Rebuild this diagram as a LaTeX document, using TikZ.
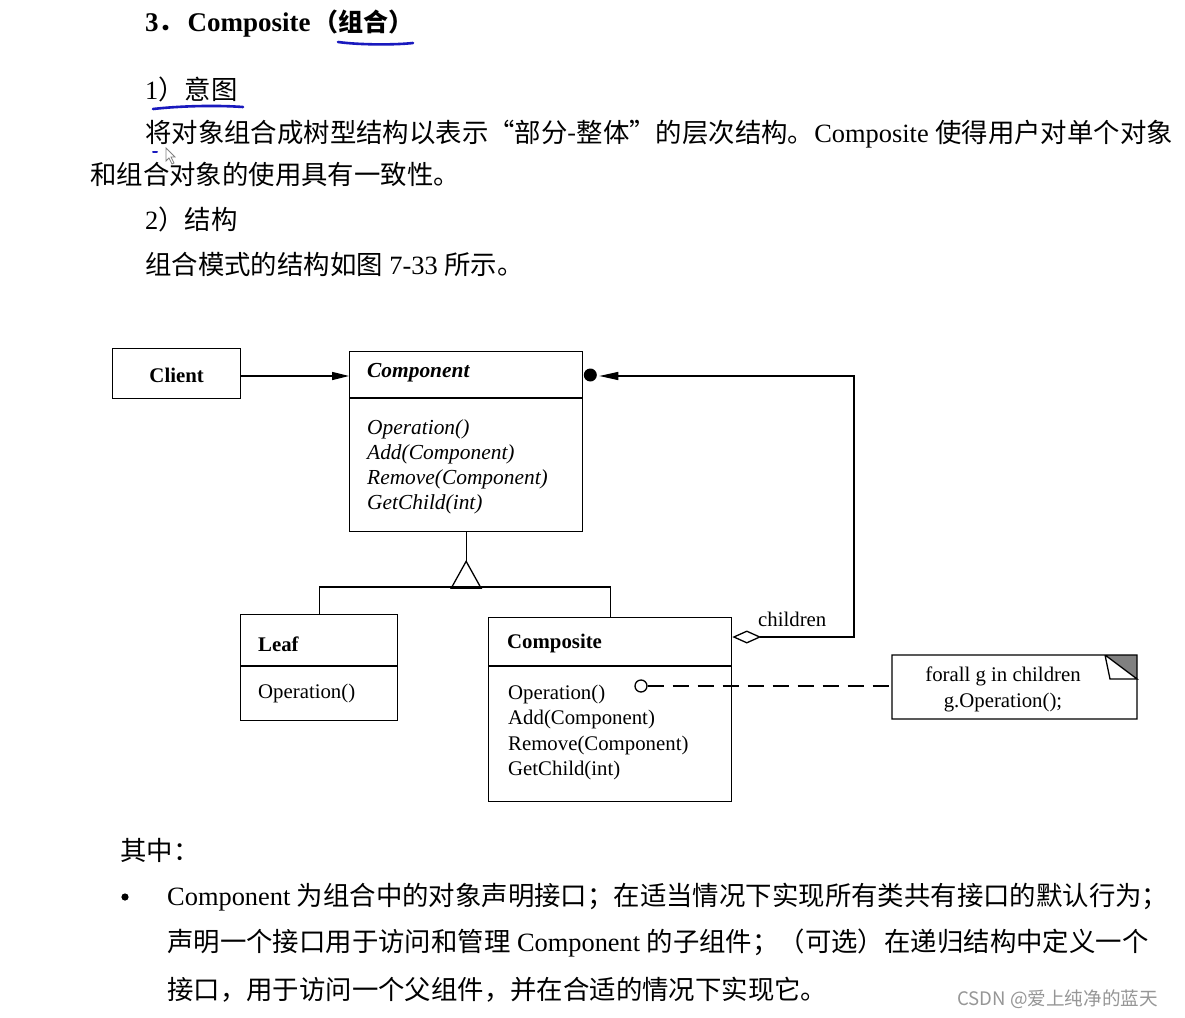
\documentclass[tikz,border=0pt]{standalone}
\usepackage{fontspec}
\setmainfont{Liberation Serif}
\newfontfamily\cjk{Noto Sans CJK SC}
\usetikzlibrary{arrows.meta,calc}
\definecolor{inkblue}{RGB}{25,25,190}
\definecolor{notegray}{RGB}{128,128,128}
\definecolor{wmgray}{RGB}{150,150,150}
\begin{document}
\begin{tikzpicture}[x=1pt,y=-1pt,
  txt/.style={inner sep=0pt, anchor=west},
  body/.style={txt, font=\fontsize{26.4}{30}\selectfont},
  ttl/.style={txt, font=\fontsize{27}{30}\selectfont\bfseries},
  dg/.style={txt, font=\fontsize{20.8}{25}\selectfont},
  dgb/.style={txt, font=\fontsize{20.8}{25}\selectfont\bfseries},
  dgbi/.style={txt, font=\fontsize{21.4}{25}\selectfont\bfseries\itshape},
  dgi/.style={txt, font=\fontsize{21.4}{25}\selectfont\itshape},
  umlbox/.style={draw, line width=1.3pt, inner sep=0pt, anchor=north west},
  ln/.style={line width=1.3pt},
  pen/.style={inkblue, line width=2.6pt, line cap=round},
]
\useasboundingbox (0,0) rectangle (1185,1017);
\fill[white] (0,0) rectangle (1185,1017);

% ---------- header text ----------
\node[ttl] (title) at (145,24) {3{\cjk\fontsize{25}{28}\selectfont ．}\hspace{4pt}Composite\hspace{3pt}{\cjk\fontsize{25}{28}\selectfont （组合）}};
\draw[pen] (338,42) .. controls (360,45) and (395,45) .. (413,43);

\node[body] (intent) at (145,89) {1{\cjk ）意图}};
\draw[pen] (153,109) .. controls (180,106) and (215,105) .. (243,107);

\node[body] (l1) at (145,134) {{\cjk 将对象组合成树型结构以表示“部分-整体”的层次结构。}Composite {\cjk 使得用户对单个对象}};
\node[body] (l2) at (90,174) {{\cjk 和组合对象的使用具有一致性。}};
\draw[inkblue, line width=2pt, line cap=round] (153,152) -- (157,152);
\draw[gray, line width=0.8pt, fill=white] (166,148) -- (166,161) -- (169,158) -- (172,164) -- (174,163) -- (171,157) -- (175,157) -- cycle;

\node[body] (struct) at (145,219) {2{\cjk ）结构}};
\node[body] (fig) at (145,264) {{\cjk 组合模式的结构如图} 7-33 {\cjk 所示。}};

% ---------- UML diagram ----------
\node[umlbox, minimum width=128, minimum height=50] (client) at (112,348) {};
\node[dgb, anchor=center] (clientname) at ($(client.center)+(0,2)$) {Client};

\node[umlbox, minimum width=233, minimum height=180] (component) at (349,351) {};
\draw[ln] (349,398) -- (582,398);
\node[dgbi] (componentname) at (367,373) {Component};
\node[dgi] (cop) at (367,429) {Operation()};
\node[dgi] (cadd) at (367,454) {Add(Component)};
\node[dgi] (crem) at (367,479) {Remove(Component)};
\node[dgi] (cget) at (367,504) {GetChild(int)};

\node[umlbox, minimum width=157, minimum height=106] (leaf) at (240,614) {};
\draw[ln] (240,666) -- (397,666);
\node[dgb] (leafname) at (258,644) {Leaf};
\node[dg] (lop) at (258,693) {Operation()};

\node[umlbox, minimum width=243, minimum height=184] (comp) at (488,617) {};
\draw[ln] (488,666) -- (731,666);
\node[dgb] (compname) at (507,643) {Composite};
\node[dg] (kop) at (508,694) {Operation()};
\node[dg] (kadd) at (508,719) {Add(Component)};
\node[dg] (krem) at (508,745) {Remove(Component)};
\node[dg] (kget) at (508,770) {GetChild(int)};

% client -> component
\draw[ln, -{Triangle[length=17pt,width=8pt]}] (client.east |- 0,376) -- (component.west |- 0,376);

% generalization
\coordinate (gtip) at ($(component.south)+(0,29)$);
\draw[ln] (component.south) -- (gtip);
\draw[ln, line join=miter] (gtip) -- ++(-15,27) -- ++(30,0) -- cycle;
\draw[ln] (leaf.north) -- (leaf.north |- 0,587) -- (comp.north |- 0,587) -- (comp.north);

% children aggregation
\coordinate (dia) at ($(comp.north east)+(0,20)$);
\coordinate (dotpt) at ($(component.north east)+(7,24)$);
\draw[ln, {Diamond[open,length=29pt,width=13pt]}-{Triangle[length=19pt,width=8pt]}]
  (dia) -- (854,637) -- (854,376) -- ($(dotpt)+(9,1)$);
\fill (dotpt) circle (6.5);
\node[dg] (children) at (758,619) {children};

% note
\node[circle, draw, line width=1.3pt, minimum size=12, inner sep=0pt] (hook) at (641,686) {};
\node[inner sep=0pt, minimum width=245, minimum height=64, anchor=north west] (note) at (892,655) {};
\fill[notegray] (1105,655) -- (1137,655) -- (1137,679) -- cycle;
\draw[ln, line join=miter] (1105,655) -- (892,655) -- (892,719) -- (1137,719) -- (1137,655) -- (1105,655) -- (1110,679) -- (1137,679) -- cycle;
\node[txt, anchor=center, align=center, font=\fontsize{20.8}{26}\selectfont] (notetext) at (1003,689) {forall g in children\\g.Operation();};
\draw[ln, dash pattern=on 16pt off 9pt] (hook.east) -- (note.west |- hook.east);

% ---------- bottom text ----------
\node[body] (qz) at (120,850) {{\cjk 其中：}};
\fill (125,897) circle (3.6);
\node[body] (b1) at (167,897) {Component {\cjk 为组合中的对象声明接口；在适当情况下实现所有类共有接口的默认行为；}};
\node[body] (b2) at (167,943) {{\cjk 声明一个接口用于访问和管理} Component {\cjk 的子组件；（可选）在递归结构中定义一个}};
\node[body] (b3) at (167,990) {{\cjk 接口，用于访问一个父组件，并在合适的情况下实现它。}};

\node[txt, text=wmgray, font=\cjk\fontsize{18.6}{20}\selectfont] (wm) at (957,999) {CSDN @爱上纯净的蓝天};
\end{tikzpicture}
\end{document}
